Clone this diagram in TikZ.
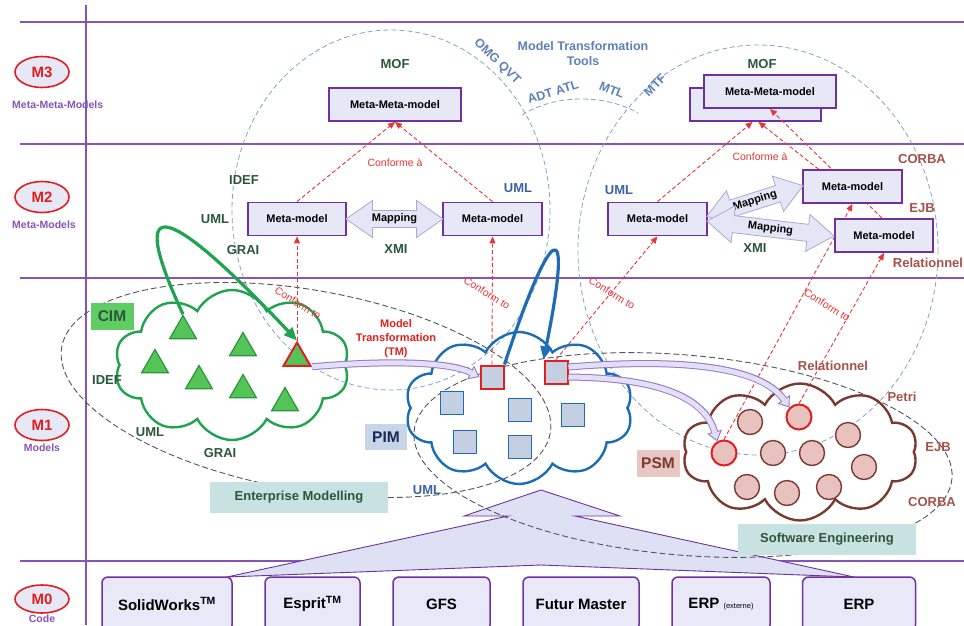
\documentclass[tikz,border=0pt]{standalone}
\usepackage{fontspec}
\setmainfont{Liberation Sans}
\usepackage{tikz}
\usetikzlibrary{arrows.meta,calc,backgrounds,shapes.geometric,shapes.symbols,shapes.arrows}
\definecolor{lvlpurple}{RGB}{133,84,184}
\definecolor{boxline}{RGB}{112,48,160}
\definecolor{boxfill}{RGB}{230,232,246}
\definecolor{codefill}{RGB}{232,232,248}
\definecolor{bigarrow}{RGB}{222,224,244}
\definecolor{mred}{RGB}{226,30,30}
\definecolor{confred}{RGB}{232,52,52}
\definecolor{dkgreen}{RGB}{44,86,58}
\definecolor{umlblue}{RGB}{58,96,166}
\definecolor{toolblue}{RGB}{92,128,184}
\definecolor{brick}{RGB}{164,82,74}
\definecolor{cimgreen}{RGB}{30,164,78}
\definecolor{trifill}{RGB}{84,196,88}
\definecolor{triline}{RGB}{40,150,60}
\definecolor{cimtag}{RGB}{96,204,100}
\definecolor{pimblue}{RGB}{30,108,182}
\definecolor{sqfill}{RGB}{196,208,226}
\definecolor{pimtag}{RGB}{200,212,232}
\definecolor{pimtext}{RGB}{24,40,90}
\definecolor{psmbrown}{RGB}{122,58,50}
\definecolor{circfill}{RGB}{232,194,190}
\definecolor{psmtag}{RGB}{232,198,194}
\definecolor{areafill}{RGB}{200,226,226}
\definecolor{ellgray}{RGB}{80,84,96}
\definecolor{ellblue}{RGB}{132,162,204}
\definecolor{mapfill}{RGB}{228,230,246}
\definecolor{mapline}{RGB}{168,170,212}
\definecolor{bandline}{RGB}{150,120,196}
\definecolor{bandfill}{RGB}{226,224,246}

\begin{document}
\begin{tikzpicture}[x=1pt,y=-1pt,
  lvl/.style={draw=lvlpurple,line width=1.4pt},
  mlevel/.style={ellipse,draw=mred,line width=1.6pt,fill=boxfill,minimum width=54pt,minimum height=31pt,inner sep=0pt,text=mred,font=\bfseries\fontsize{15}{15}\selectfont},
  mname/.style={text=lvlpurple,inner sep=0pt,font=\bfseries\fontsize{10.5}{12}\selectfont},
  mbox/.style={draw=boxline,line width=1.8pt,fill=boxfill,minimum height=33pt,inner sep=0pt,font=\bfseries\fontsize{11}{13}\selectfont},
  codebox/.style={draw=boxline,line width=1.5pt,fill=codefill,rounded corners=6pt,minimum height=54pt,inner sep=0pt,font=\bfseries\fontsize{15}{17}\selectfont},
  maparrow/.style={double arrow,double arrow head extend=10pt,double arrow tip angle=70,draw=mapline,fill=mapfill,line width=0.8pt,inner xsep=0pt,inner ysep=3pt,font=\bfseries\fontsize{11}{13}\selectfont},
  conf/.style={draw=confred,dash pattern=on 4pt off 2.5pt,line width=0.9pt,-{Triangle[length=7pt,width=6pt]}},
  conftext/.style={text=confred,inner sep=0pt,font=\fontsize{10.5}{12}\selectfont},
  confslant/.style={conftext,rotate=-32},
  gtext/.style={text=dkgreen,inner sep=0pt,font=\bfseries\fontsize{13}{15}\selectfont},
  btext/.style={text=umlblue,inner sep=0pt,font=\bfseries\fontsize{13}{15}\selectfont},
  rtext/.style={text=brick,inner sep=0pt,font=\bfseries\fontsize{13}{15}\selectfont},
  tooltext/.style={text=toolblue,inner sep=0pt,font=\bfseries\fontsize{12.5}{15}\selectfont},
  tmtext/.style={text=mred,align=center,inner sep=0pt,font=\bfseries\fontsize{11}{14}\selectfont},
  blueell/.style={draw=ellblue,dash pattern=on 5pt off 3pt,line width=0.8pt},
  grayell/.style={draw=ellgray,dash pattern=on 6pt off 3pt,line width=0.9pt},
  modelcloud/.style={cloud,cloud puffs=10,cloud puff arc=125,aspect=1.6,line width=2.4pt,inner sep=0pt},
  tri/.style={regular polygon,regular polygon sides=3,minimum size=31pt,inner sep=0pt,fill=trifill,draw=triline,line width=1.2pt},
  pimsq/.style={rectangle,minimum size=23pt,inner sep=0pt,fill=sqfill,draw=pimblue,line width=1.4pt},
  psmdot/.style={circle,minimum size=25pt,inner sep=0pt,fill=circfill,draw=psmbrown,line width=1.4pt},
  hot/.style={draw=mred,line width=2pt},
  tag/.style={minimum width=43pt,minimum height=27pt,inner sep=0pt,font=\bfseries\fontsize{15.5}{17}\selectfont},
  areabox/.style={fill=areafill,text=dkgreen,minimum width=178pt,minimum height=31pt,font=\bfseries\fontsize{13}{15}\selectfont},
  bandout/.style={draw=bandline,line width=7pt,-{Triangle[length=10pt,width=15pt,fill=bandfill,line width=0.9pt]}},
  bandin/.style={draw=bandfill,line width=5pt,shorten >=9pt},
  refine/.style={line width=3.2pt,-{Triangle[length=13pt,width=11pt]}}]
\useasboundingbox (0,0) rectangle (964,625);

\begin{scope}[on background layer]
  \foreach \yl in {22,144,278,561}
    \draw[lvl] (20,\yl) -- (964,\yl);
  \draw[lvl] (86,5) -- (86,625);
  % M0 up to M1
  \filldraw[draw=boxline,fill=bigarrow,line width=0.9pt] (227,577) -- (508,516) -- (464,516) -- (541,490)
    -- (620,516) -- (575,516) -- (854,577) -- (541,565) -- cycle;
  \draw[blueell] (391,210) ellipse [x radius=159, y radius=180];
  \draw[blueell] (758,250) ellipse [x radius=180, y radius=205];
  \draw[blueell] (522,115) .. controls (555,94) and (605,94) .. (638,113);
  \draw[grayell,rotate around={-10:(306,390)}] (306,390) ellipse [x radius=248, y radius=100];
  \draw[grayell,rotate around={-5:(683,455)}] (683,455) ellipse [x radius=270, y radius=100];
\end{scope}

% levels
\node[mlevel] (m3) at (42,72) {M3};
\node[mname,anchor=west] (m3t) at (12,105) {Meta-Meta-Models};
\node[mlevel] (m2) at (42,197) {M2};
\node[mname,anchor=west] (m2t) at (12,225) {Meta-Models};
\node[mlevel] (m1) at (42,425) {M1};
\node[mname] (m1t) at (42,448) {Models};
\node[mlevel,minimum height=28pt] (m0) at (42,599) {M0};
\node[mname] (m0t) at (42,619) {Code};

% tools
\node[tooltext,align=center] (mtt) at (583,54) {Model Transformation\\Tools};
\node[tooltext,rotate=-44] (qvt) at (497,62) {OMG QVT};
\node[tooltext,rotate=17] (atl) at (553,92) {ADT ATL};
\node[tooltext,rotate=-22] (mtl) at (612,90) {MTL};
\node[tooltext,rotate=45] (mtf) at (655,85) {MTF};

% M3 / M2
\node[gtext] (mof1) at (395,64) {MOF};
\node[mbox,minimum width=132pt] (mmmL) at (395,104.5) {Meta-Meta-model};
\node[gtext] (mof2) at (762,64) {MOF};
\node[mbox,minimum width=132pt] (mmRf) at (770,91.5) {Meta-Meta-model};

\node[mbox,minimum width=98pt] (mmL) at (297,219) {Meta-model};
\node[mbox,minimum width=99pt] (mmC) at (492.5,219) {Meta-model};
\node[maparrow,minimum height=97pt] (mapL) at (394.5,219) {Mapping};
\node[gtext] (idef2) at (244,180) {IDEF};
\node[gtext] (uml2) at (215,219) {UML};
\node[gtext] (grai2) at (243,250) {GRAI};
\node[gtext] (xmi1) at (396,249) {XMI};
\node[btext] (uml3) at (518,188) {UML};
\node[conftext] (ca1) at (395,163) {Conforme à};

\node[mbox,minimum width=99pt] (mmR) at (657.5,219) {Meta-model};
\node[mbox,minimum width=99pt] (mmRu) at (852.5,186.5) {Meta-model};
\node[mbox,minimum width=98pt] (mmRl) at (884,235.5) {Meta-model};
\node[maparrow,minimum height=101pt,rotate=17.6] (mapRu) at (755,201) {Mapping};
\node[maparrow,minimum height=128pt,rotate=-6.7] (mapRl) at (770.5,228.5) {Mapping};
\node[btext] (uml4) at (619,190) {UML};
\node[gtext] (xmi2) at (755,248) {XMI};
\node[rtext] (corba2) at (922,159) {CORBA};
\node[rtext] (ejb2) at (922,208) {EJB};
\node[rtext] (rel2) at (928,263) {Relationnel};
\node[conftext] (ca2) at (760,157) {Conforme à};

% M1 : CIM
\node[modelcloud,draw=cimgreen,minimum width=235pt,minimum height=150pt] (cim) at (232,365) {};
\node[tag,fill=cimtag,text=dkgreen] (cimtag) at (112,316) {CIM};
\foreach \n/\x/\y in {t1/183/331,t2/243/348,t3/155/365,t4/199/381,t5/243/390,t6/285/403}
  \node[tri] (\n) at (\x,\y) {};
\node[tri,hot] (tr) at (297,358) {};
\node[gtext] (idef1) at (107,380) {IDEF};
\node[gtext] (uml1) at (150,432) {UML};
\node[gtext] (grai1) at (220,453) {GRAI};
\node[areabox] (em) at (299,497) {Enterprise Modelling};

% M1 : PIM
\node[modelcloud,draw=pimblue,minimum width=228pt,minimum height=152pt] (pim) at (519,408) {};
\node[tag,fill=pimtag,text=pimtext,minimum width=42pt,minimum height=26pt] (pimtag) at (386,437) {PIM};
\foreach \n/\x/\y in {s1/452/403,s2/520/410,s3/465/442,s4/520/447,s5/573/415}
  \node[pimsq] (\n) at (\x,\y) {};
\node[pimsq,hot] (rs1) at (492,377) {};
\node[pimsq,hot] (rs2) at (556,372) {};
\node[btext] (uml5) at (427,490) {UML};
\node[tmtext] (tm) at (396,339) {Model\\Transformation\\(TM)};

% M1 : PSM
\node[modelcloud,draw=psmbrown,minimum width=235pt,minimum height=137pt] (psm) at (800,452) {};
\node[tag,fill=psmtag,text=psmbrown] (psmtag) at (658,463) {PSM};
\foreach \n/\x/\y in {c1/750/422,c2/848/435,c3/773/453,c4/812/453,c5/864/467,c6/747/487,c7/787/493,c8/829/487}
  \node[psmdot] (\n) at (\x,\y) {};
\node[psmdot,hot] (rc1) at (799,417) {};
\node[psmdot,hot] (rc2) at (724,453) {};
\node[rtext] (rel1) at (833,366) {Relationnel};
\node[rtext] (petri) at (902,397) {Petri};
\node[rtext] (ejb1) at (938,447) {EJB};
\node[rtext] (corba1) at (932,502) {CORBA};
\node[areabox] (se) at (827,539) {Software Engineering};

% refinement loops
\draw[refine,cimgreen] (t1.corner 1) .. controls (130,200) and (155,190) .. (tr.corner 1);
\draw[refine,pimblue] (rs1.north east) .. controls (550,225) and (575,205) .. (rs2.north west);

% transformations
\draw[bandout] (tr.corner 3) .. controls (390,360) and (450,362) .. (rs1.west);
\draw[bandin] (tr.corner 3) .. controls (390,360) and (450,362) .. (rs1.west);
\draw[bandout] ($(rs2.east)+(0,-5)$) .. controls (680,358) and (760,366) .. (rc1.135);
\draw[bandin] ($(rs2.east)+(0,-5)$) .. controls (680,358) and (760,366) .. (rc1.135);
\draw[bandout] ($(rs2.east)+(0,5)$) .. controls (660,378) and (705,398) .. (rc2.120);
\draw[bandin] ($(rs2.east)+(0,5)$) .. controls (660,378) and (705,398) .. (rc2.120);

\node[confslant] (cf1) at (298,303) {Conform to};
\node[confslant] (cf2) at (487,293) {Conform to};
\node[confslant] (cf3) at (612,293) {Conform to};
\node[confslant] (cf4) at (827,305) {Conform to};

% M0
\node[codebox,minimum width=130pt] (sw) at (167,604) {SolidWorks\textsuperscript{TM}};
\node[codebox,minimum width=95pt] (es) at (312.5,604) {Esprit\textsuperscript{TM}};
\node[codebox,minimum width=97pt] (gfs) at (441.5,604) {GFS};
\node[codebox,minimum width=116pt] (fm) at (581,604) {Futur Master};
\node[codebox,minimum width=98pt] (erpx) at (721,604) {ERP {\mdseries\fontsize{7.5}{9}\selectfont(externe)}};
\node[codebox,minimum width=113pt] (erp) at (859,604) {ERP};

\begin{scope}[on background layer]
  \node[mbox,minimum width=131pt] (mmRb) at (755.5,104.5) {};
  \draw[conf] (tr.corner 1) -- (mmL.south);
  \draw[conf] (rs1.north) -- (mmC.south);
  \draw[conf] (rs2.north) -- (mmR.south);
  \draw[conf] (rc2.north) -- (mmRu.south);
  \draw[conf] (rc1.north) -- (mmRl.south);
  \draw[conf] (mmL.north) -- (mmmL.south);
  \draw[conf] (mmC.north) -- (mmmL.south);
  \draw[conf] (mmR.north) -- ([xshift=-3pt]mmRb.south);
  \draw[conf] ([xshift=-34pt]mmRu.north) -- ([xshift=3pt]mmRb.south);
  \draw[conf] ([xshift=-2pt]mmRl.north) -- (mmRf.south);
\end{scope}
\end{tikzpicture}
\end{document}
